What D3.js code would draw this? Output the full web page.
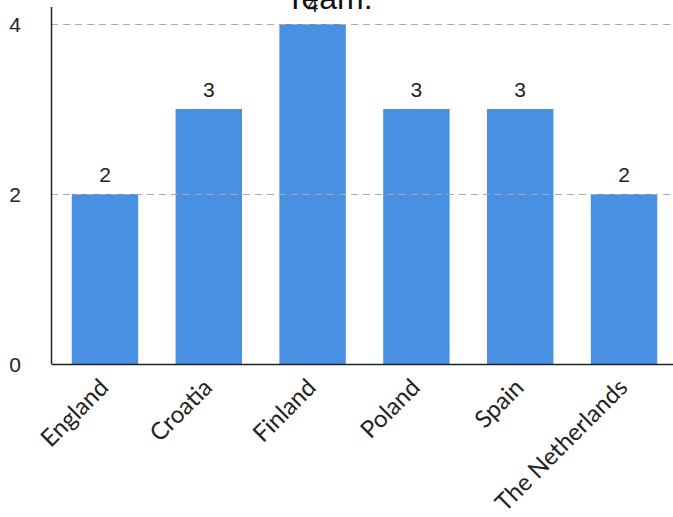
<!DOCTYPE html>
<html>
<head>
<meta charset="utf-8">
<script src="https://cdn.jsdelivr.net/npm/d3@7"></script>
<style>
  html, body { margin: 0; padding: 0; background: #fff; }
  svg { display: block; }
</style>
</head>
<body>
<div id="chart"></div>
<script>
const categories = ["England", "Croatia", "Finland", "Poland", "Spain", "The Netherlands"];
const values = [2, 3, 4, 3, 3, 2];
const yTicks = [0, 2, 4];
const gridTicks = [2, 4];
const title = "Team:";

const W = 673, H = 517;
const svg = d3.select("#chart").append("svg").attr("width", W).attr("height", H);

const x = d3.scaleBand().domain(categories).range([51, 678]).paddingInner(0.36).paddingOuter(0.2);
const y = d3.scaleLinear().domain([0, 4]).range([364, 24]);

// bars
svg.append("g").selectAll("rect").data(categories).join("rect")
  .attr("x", d => x(d))
  .attr("y", (d, i) => y(values[i]))
  .attr("width", x.bandwidth())
  .attr("height", (d, i) => y(0) - y(values[i]))
  .attr("fill", "#4a90e2");

// grid lines
svg.append("g").selectAll("line").data(gridTicks).join("line")
  .attr("x1", 51).attr("x2", 678)
  .attr("y1", d => y(d) + 0.5).attr("y2", d => y(d) + 0.5)
  .attr("stroke", "#aaaaaa").attr("stroke-width", 1.2)
  .attr("stroke-dasharray", "7,5");

// y axis
const yAxis = d3.axisLeft(y).tickValues(yTicks).tickSize(0).tickPadding(0).tickFormat(d3.format("d"));
const gy = svg.append("g").attr("transform", "translate(51,0)").call(yAxis);
gy.select(".domain").remove();
gy.append("line").attr("x1", 0.5).attr("x2", 0.5).attr("y1", 7).attr("y2", 364)
  .attr("stroke", "#222").attr("stroke-width", 1.5);
gy.selectAll(".tick text")
  .attr("x", -30).attr("text-anchor", "end")
  .attr("dy", "0.36em")
  .attr("font-family", "Liberation Sans, Arial, sans-serif")
  .attr("font-size", 21).attr("fill", "#222");

// x axis
const xAxis = d3.axisBottom(x).tickSize(0).tickPadding(0);
const gx = svg.append("g").attr("transform", "translate(0,364)").call(xAxis);
gx.select(".domain").attr("stroke", "#222").attr("stroke-width", 1.5);
gx.selectAll(".tick text")
  .attr("text-anchor", "end")
  .attr("x", 0).attr("y", 0).attr("dy", 0)
  .attr("transform", "translate(5,25) rotate(-45)")
  .attr("font-family", "Lato, sans-serif")
  .attr("font-weight", 400)
  .attr("font-size", 24).attr("fill", "#222");

// value labels
svg.append("g").selectAll("text").data(categories).join("text")
  .attr("x", d => x(d) + x.bandwidth() / 2)
  .attr("y", (d, i) => y(values[i]) - 12)
  .attr("text-anchor", "middle")
  .attr("font-family", "Liberation Sans, Arial, sans-serif")
  .attr("font-size", 21).attr("fill", "#222")
  .text((d, i) => values[i]);

// title
svg.append("text")
  .attr("x", 329).attr("y", 9)
  .attr("text-anchor", "middle")
  .attr("font-family", "Liberation Sans, Arial, sans-serif")
  .attr("font-size", 32).attr("fill", "#111")
  .text(title);
</script>
</body>
</html>
